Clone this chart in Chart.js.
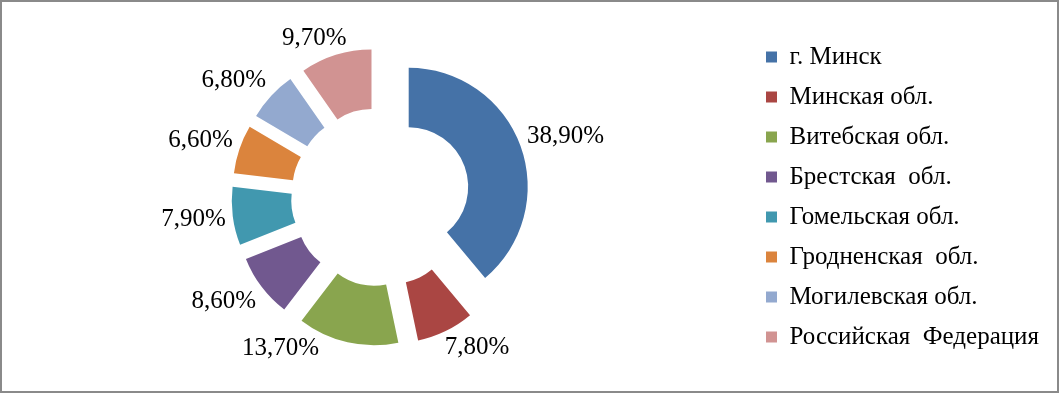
<!DOCTYPE html>
<html>
<head>
<meta charset="utf-8">
<script src="https://cdn.jsdelivr.net/npm/chart.js@4"></script>
<style>
  html, body { margin: 0; padding: 0; background: #fff; }
  #wrap { position: relative; width: 1059px; height: 393px; }
  #frame {
    position: absolute; left: 0; top: 0; width: 1059px; height: 393px;
    box-sizing: border-box; border: 2px solid #8a8a8a; pointer-events: none;
  }
</style>
</head>
<body>
<div id="wrap">
  <canvas id="chart" width="1059" height="393"></canvas>
  <div id="frame"></div>
</div>
<script>
// data
const regions = [
  "г. Минск",
  "Минская обл.",
  "Витебская обл.",
  "Брестская  обл.",
  "Гомельская обл.",
  "Гродненская  обл.",
  "Могилевская обл.",
  "Российская  Федерация"
];
const shares = [38.9, 7.8, 13.7, 8.6, 7.9, 6.6, 6.8, 9.7];
const sliceColors = ["#4572A7", "#AA4643", "#89A54E", "#71588F", "#4198AF", "#DB843D", "#93A9CF", "#D19392"];

const explode = 30; // px each slice is pulled out from the centre

function fmt(v) {
  return v.toFixed(2).replace(".", ",") + "%";
}

function midAngle(arc) {
  return (arc.startAngle + arc.endAngle) / 2;
}

// chart.js "offset" also grows the radius, so move the arc centres ourselves
const explodeSlices = {
  id: "explodeSlices",
  afterDatasetUpdate(chart, args) {
    args.meta.data.forEach(arc => {
      const a = midAngle(arc);
      arc.x += Math.cos(a) * explode;
      arc.y += Math.sin(a) * explode;
    });
  }
};

// labels outside the ring, the text box touching a circle just beyond the slices
const outsideLabels = {
  id: "outsideLabels",
  afterDatasetsDraw(chart, args, opts) {
    const ctx = chart.ctx;
    const meta = chart.getDatasetMeta(0);
    const values = chart.data.datasets[0].data;
    ctx.save();
    ctx.font = opts.font;
    ctx.fillStyle = "#000";
    ctx.textAlign = "center";
    ctx.textBaseline = "middle";
    meta.data.forEach((arc, i) => {
      const mid = midAngle(arc);
      const cx = arc.x - Math.cos(mid) * explode;
      const cy = arc.y - Math.sin(mid) * explode;
      const text = fmt(values[i]);
      const w = ctx.measureText(text).width;
      const h = opts.height;
      const r = arc.outerRadius + explode + opts.gap;
      const place = (a) => {
        const dx = Math.cos(a), dy = Math.sin(a);
        const sx = Math.max(-1, Math.min(1, dx * 2));
        const sy = Math.max(-1, Math.min(1, dy * 2));
        return { x: cx + dx * r + sx * w / 2, y: cy + dy * r + sy * h / 2 };
      };
      let a = mid;
      let pos = place(a);
      const maxY = cy + opts.below, minY = cy - opts.above;
      for (let k = 0; k < 60 && (pos.y + h / 2 > maxY || pos.y - h / 2 < minY); k++) {
        // slide round towards the side of the ring
        a += (Math.cos(a) < 0 ? 1 : -1) * Math.sign(Math.sin(a)) * 0.01;
        pos = place(a);
      }
      ctx.fillText(text, pos.x, pos.y);
    });
    ctx.restore();
  }
};

new Chart(document.getElementById("chart"), {
  type: "doughnut",
  data: {
    labels: regions,
    datasets: [{
      data: shares,
      backgroundColor: sliceColors,
      borderWidth: 0
    }]
  },
  options: {
    responsive: false,
    animation: false,
    radius: 119,
    cutout: "50%",
    layout: { padding: { left: 10, right: 10, top: 1, bottom: 0 } },
    plugins: {
      tooltip: { enabled: false },
      legend: {
        position: "right",
        labels: {
          boxWidth: 11,
          boxHeight: 11,
          padding: 15,
          color: "#000",
          font: { family: "'Liberation Serif', 'Times New Roman', serif", size: 25 }
        }
      },
      outsideLabels: {
        font: "25px 'Liberation Serif', 'Times New Roman', serif",
        height: 20,
        gap: 7,
        below: 161,
        above: 175
      }
    }
  },
  plugins: [explodeSlices, outsideLabels]
});
</script>
</body>
</html>
